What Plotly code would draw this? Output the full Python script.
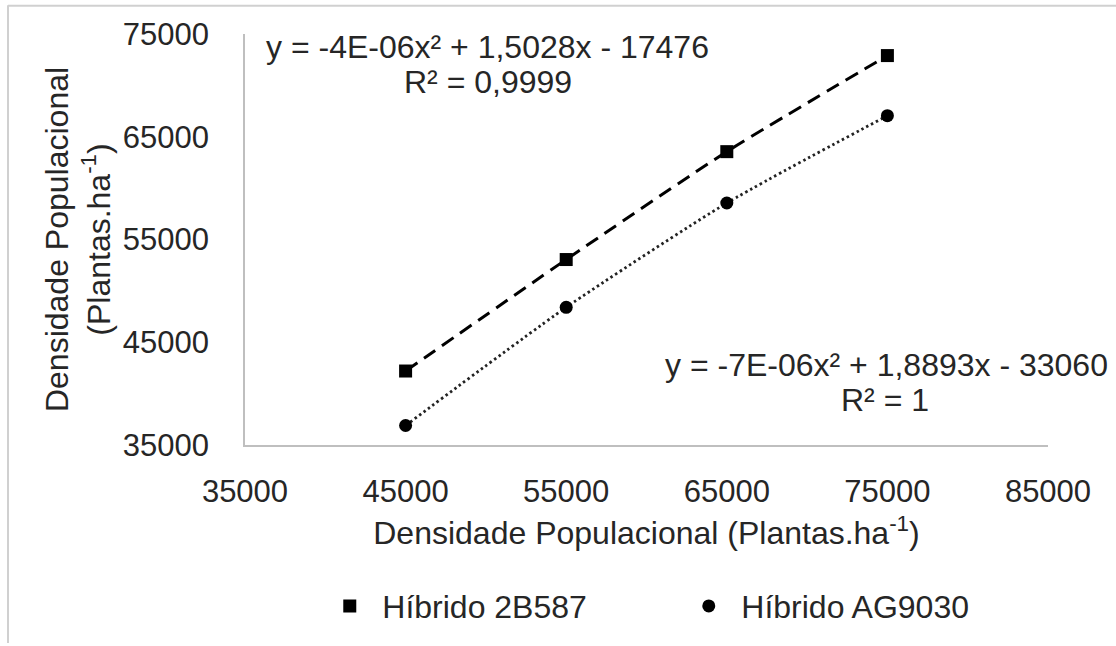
import plotly.graph_objects as go

# ---- data ----
densidade = [45000, 55000, 65000, 75000]
hibrido_2b587 = [42200, 53050, 63550, 72900]
hibrido_ag9030 = [36900, 48400, 58550, 67050]

x_ticks = [35000, 45000, 55000, 65000, 75000, 85000]
y_ticks = [35000, 45000, 55000, 65000, 75000]

eq_2b587 = "y = -4E-06x² + 1,5028x - 17476"
r2_2b587 = "R² = 0,9999"
eq_ag9030 = "y = -7E-06x² + 1,8893x - 33060"
r2_ag9030 = "R² = 1"

FONT = "Liberation Sans, Arial, sans-serif"
TXT = "#262626"

fig = go.Figure()

# trend lines (drawn from the data points)
fig.add_trace(go.Scatter(
    x=densidade, y=hibrido_2b587, mode="lines", showlegend=False,
    line=dict(color="#000000", width=3, dash="14px,8px", shape="spline", smoothing=0.6),
    hoverinfo="skip"))
fig.add_trace(go.Scatter(
    x=densidade, y=hibrido_ag9030, mode="lines", showlegend=False,
    line=dict(color="#222222", width=2.8, dash="2.5px,3px", shape="spline", smoothing=0.6),
    hoverinfo="skip"))

# markers
fig.add_trace(go.Scatter(
    x=densidade, y=hibrido_2b587, mode="markers", name="Híbrido 2B587",
    marker=dict(symbol="square", size=13, color="#000000")))
fig.add_trace(go.Scatter(
    x=densidade, y=hibrido_ag9030, mode="markers", name="Híbrido AG9030",
    marker=dict(symbol="circle", size=13, color="#000000")))

fig.update_layout(
    width=1116, height=646,
    margin=dict(l=245, r=68, t=34, b=199),
    paper_bgcolor="white", plot_bgcolor="white",
    font=dict(family=FONT, size=32, color=TXT),
    showlegend=True,
    legend=dict(orientation="h", x=0.09, xanchor="left", y=-0.392, yanchor="middle",
                font=dict(size=32, color=TXT), itemwidth=55,
                entrywidth=289, entrywidthmode="pixels",
                bgcolor="rgba(0,0,0,0)"),
    xaxis=dict(range=[35000, 85000], tickvals=x_ticks, ticktext=[str(v) for v in x_ticks],
               showline=True, linecolor="#bfbfbf", linewidth=1.5,
               showgrid=False, zeroline=False,
               ticks="outside", ticklen=18, tickcolor="rgba(0,0,0,0)",
               tickfont=dict(size=31, color=TXT),
               title=dict(text="Densidade Populacional (Plantas.ha<sup>-1</sup>)",
                          font=dict(size=32, color=TXT), standoff=14)),
    yaxis=dict(range=[35000, 75000], tickvals=y_ticks, ticktext=[str(v) for v in y_ticks],
               showline=True, linecolor="#bfbfbf", linewidth=1.5,
               showgrid=False, zeroline=False,
               ticks="outside", ticklen=28, tickcolor="rgba(0,0,0,0)",
               tickfont=dict(size=31, color=TXT),
               title=dict(text="Densidade Populacional<br>(Plantas.ha<sup>-1</sup>)",
                          font=dict(size=32, color=TXT), standoff=3)),
)

def ann(text, xpx, ypx):
    fig.add_annotation(text=text, xref="paper", yref="paper",
                       x=(xpx - 245) / 803, y=(447 - ypx) / 413,
                       xanchor="center", yanchor="middle", showarrow=False,
                       font=dict(size=32, color=TXT, family=FONT))

ann(eq_2b587, 487.5, 47)
ann(r2_2b587, 487.5, 82)
ann(eq_ag9030, 886.5, 367)
ann(r2_ag9030, 885, 402)

# page frame (light grey border at top and left of the picture)
fig.add_shape(type="line", xref="paper", yref="paper",
              x0=(8 - 245) / 803, x1=(1116 - 245) / 803,
              y0=(447 - 5.5) / 413, y1=(447 - 5.5) / 413,
              line=dict(color="#d0d0d0", width=2))
fig.add_shape(type="line", xref="paper", yref="paper",
              x0=(8 - 245) / 803, x1=(8 - 245) / 803,
              y0=(447 - 5) / 413, y1=(447 - 646) / 413,
              line=dict(color="#d0d0d0", width=2))

fig.write_html("out.html")
